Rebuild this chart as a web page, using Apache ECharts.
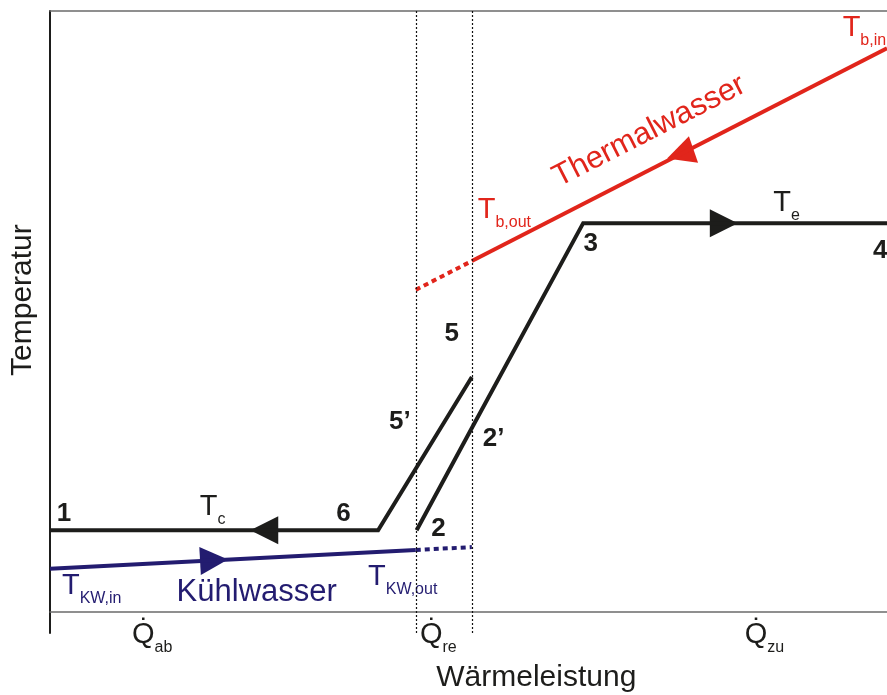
<!DOCTYPE html>
<html><head><meta charset="utf-8">
<script src="https://cdn.jsdelivr.net/npm/echarts@6/dist/echarts.min.js"></script>
<style>html,body{margin:0;padding:0;background:#fff}#c{width:887px;height:695px}</style>
</head><body><div id="c"></div>
<script>
// Process cycle (Q in % of heat flow, T in arbitrary units)
const condQ = [0, 39.2, 50.4];          // 1 -> 6 -> 5
const condT = [13.6, 13.6, 39.1];
const evapQ = [43.8, 50.4, 63.7, 100];  // 2 -> 2' -> 3 -> 4
const evapT = [13.6, 30.6, 64.7, 64.7];
const brineQ = [50.4, 100];             // Thermalwasser
const brineT = [58.4, 93.8];
const brineExtQ = [43.7, 50.4];
const brineExtT = [53.6, 58.4];
const coolQ = [0, 43.7];                // Kühlwasser
const coolT = [7.2, 10.3];
const coolExtQ = [43.7, 50.4];
const coolExtT = [10.3, 10.8];
const recupBounds = [43.7, 50.4];
// flow-direction arrows: a point behind the arrow and the arrow's centre
const arrowFromQ = [28.0, 78.0, 78.0, 17.0];
const arrowFromT = [13.6, 64.7, 77.5, 8.4];
const arrowAtQ = [25.6, 80.5, 75.3, 19.6];
const arrowAtT = [13.6, 64.7, 76.2, 8.6];

const black = '#1d1d1b', red = '#e1251b', blue = '#231c70', gray = '#6b6b6b';
const FONT = 'Liberation Sans, Arial, sans-serif';
const arrowColors = [black, black, red, blue];

const zip = (a, b) => a.map((v, i) => [v, b[i]]);

function lineSeries(q, t, color, type) {
  return {
    type: 'line', data: zip(q, t), showSymbol: false, silent: true, clip: false,
    lineStyle: { color, width: 4, type: type || 'solid', join: 'miter', cap: 'butt' }
  };
}
function num(q, t, txt) {
  return { value: [q, t], label: { formatter: txt, align: 'center', verticalAlign: 'middle',
    fontSize: 26, fontWeight: 'bold', color: black, fontFamily: FONT } };
}
function sub(q, t, m, s, color) {
  return { value: [q, t], label: { formatter: '{m|' + m + '}{s|' + s + '}', align: 'left', verticalAlign: 'bottom',
    rich: {
      m: { fontSize: 29, lineHeight: 29, padding: [0, 0, 6, 0], verticalAlign: 'bottom', color, fontFamily: FONT },
      s: { fontSize: 16, lineHeight: 16, verticalAlign: 'bottom', color, fontFamily: FONT }
    } } };
}
function big(q, t, txt, color, size, rot) {
  return { value: [q, t], label: { formatter: txt, align: 'center', verticalAlign: 'middle',
    fontSize: size, color, fontFamily: FONT, rotate: rot || 0 } };
}

const annotations = [
  num(1.67, 16.3, '1'), num(35.07, 16.3, '6'), num(46.4, 13.8, '2'),
  num(41.8, 31.7, '5\u2019'), num(48.0, 46.3, '5'), num(53.0, 28.8, '2\u2019'),
  num(64.6, 61.2, '3'), num(99.2, 60.1, '4'),
  sub(17.9, 14.0, 'T', 'c', black), sub(86.4, 64.6, 'T', 'e', black),
  sub(51.1, 63.5, 'T', 'b,out', red), sub(94.7, 93.7, 'T', 'b,in', red),
  sub(1.43, 0.9, 'T', 'KW,in', blue), sub(38.0, 2.4, 'T', 'KW,out', blue),
  sub(9.8, -7.2, 'Q\u0307', 'ab', black), sub(44.2, -7.2, 'Q\u0307', 're', black),
  sub(83.0, -7.2, 'Q\u0307', 'zu', black),
  big(24.7, 3.3, 'Kühlwasser', blue, 31), big(71.6, 80.0, 'Thermalwasser', red, 31, 27),
  big(58.1, -11.0, 'Wärmeleistung', black, 30), big(-3.28, 51.9, 'Temperatur', black, 30, 90)
];

const chart = echarts.init(document.getElementById('c'), null, { renderer: 'canvas' });
chart.setOption({
  animation: false,
  backgroundColor: '#fff',
  grid: { left: 50, right: 0, top: 11, bottom: 62, containLabel: false },
  xAxis: [
    { type: 'value', min: 0, max: 100, axisLine: { show: true, onZero: true, lineStyle: { color: gray, width: 1.5 } },
      axisTick: { show: false }, axisLabel: { show: false }, splitLine: { show: false } },
    { type: 'value', position: 'top', min: 0, max: 100, axisLine: { show: true, onZero: false, lineStyle: { color: gray, width: 1.5 } },
      axisTick: { show: false }, axisLabel: { show: false }, splitLine: { show: false } }
  ],
  yAxis: { type: 'value', min: -3.5, max: 100, axisLine: { show: true, onZero: false, lineStyle: { color: black, width: 2 } },
    axisTick: { show: false }, axisLabel: { show: false }, splitLine: { show: false } },
  series: [
    Object.assign(lineSeries(coolExtQ, coolExtT, blue, [5, 4]), {
      markLine: { silent: true, symbol: 'none', label: { show: false },
        lineStyle: { color: '#111', width: 1.2, type: [2, 2] },
        data: recupBounds.map(q => ({ xAxis: q })) }
    }),
    lineSeries(coolQ, coolT, blue),
    lineSeries(brineExtQ, brineExtT, red, [5, 4]),
    lineSeries(brineQ, brineT, red),
    lineSeries(condQ, condT, black),
    lineSeries(evapQ, evapT, black),
    {
      type: 'lines', coordinateSystem: 'cartesian2d', silent: true,
      symbol: ['none', 'triangle'], symbolSize: [22, 28],
      lineStyle: { width: 0, opacity: 1 },
      data: arrowFromQ.map((q, i) => ({
        coords: [[q, arrowFromT[i]], [arrowAtQ[i], arrowAtT[i]]],
        lineStyle: { color: arrowColors[i], width: 0 }
      }))
    },
    {
      type: 'scatter', symbolSize: 0, clip: false, silent: true,
      itemStyle: { opacity: 1 },
      label: { show: true, position: [0, 0] },
      data: annotations
    }
  ]
});
</script></body></html>
